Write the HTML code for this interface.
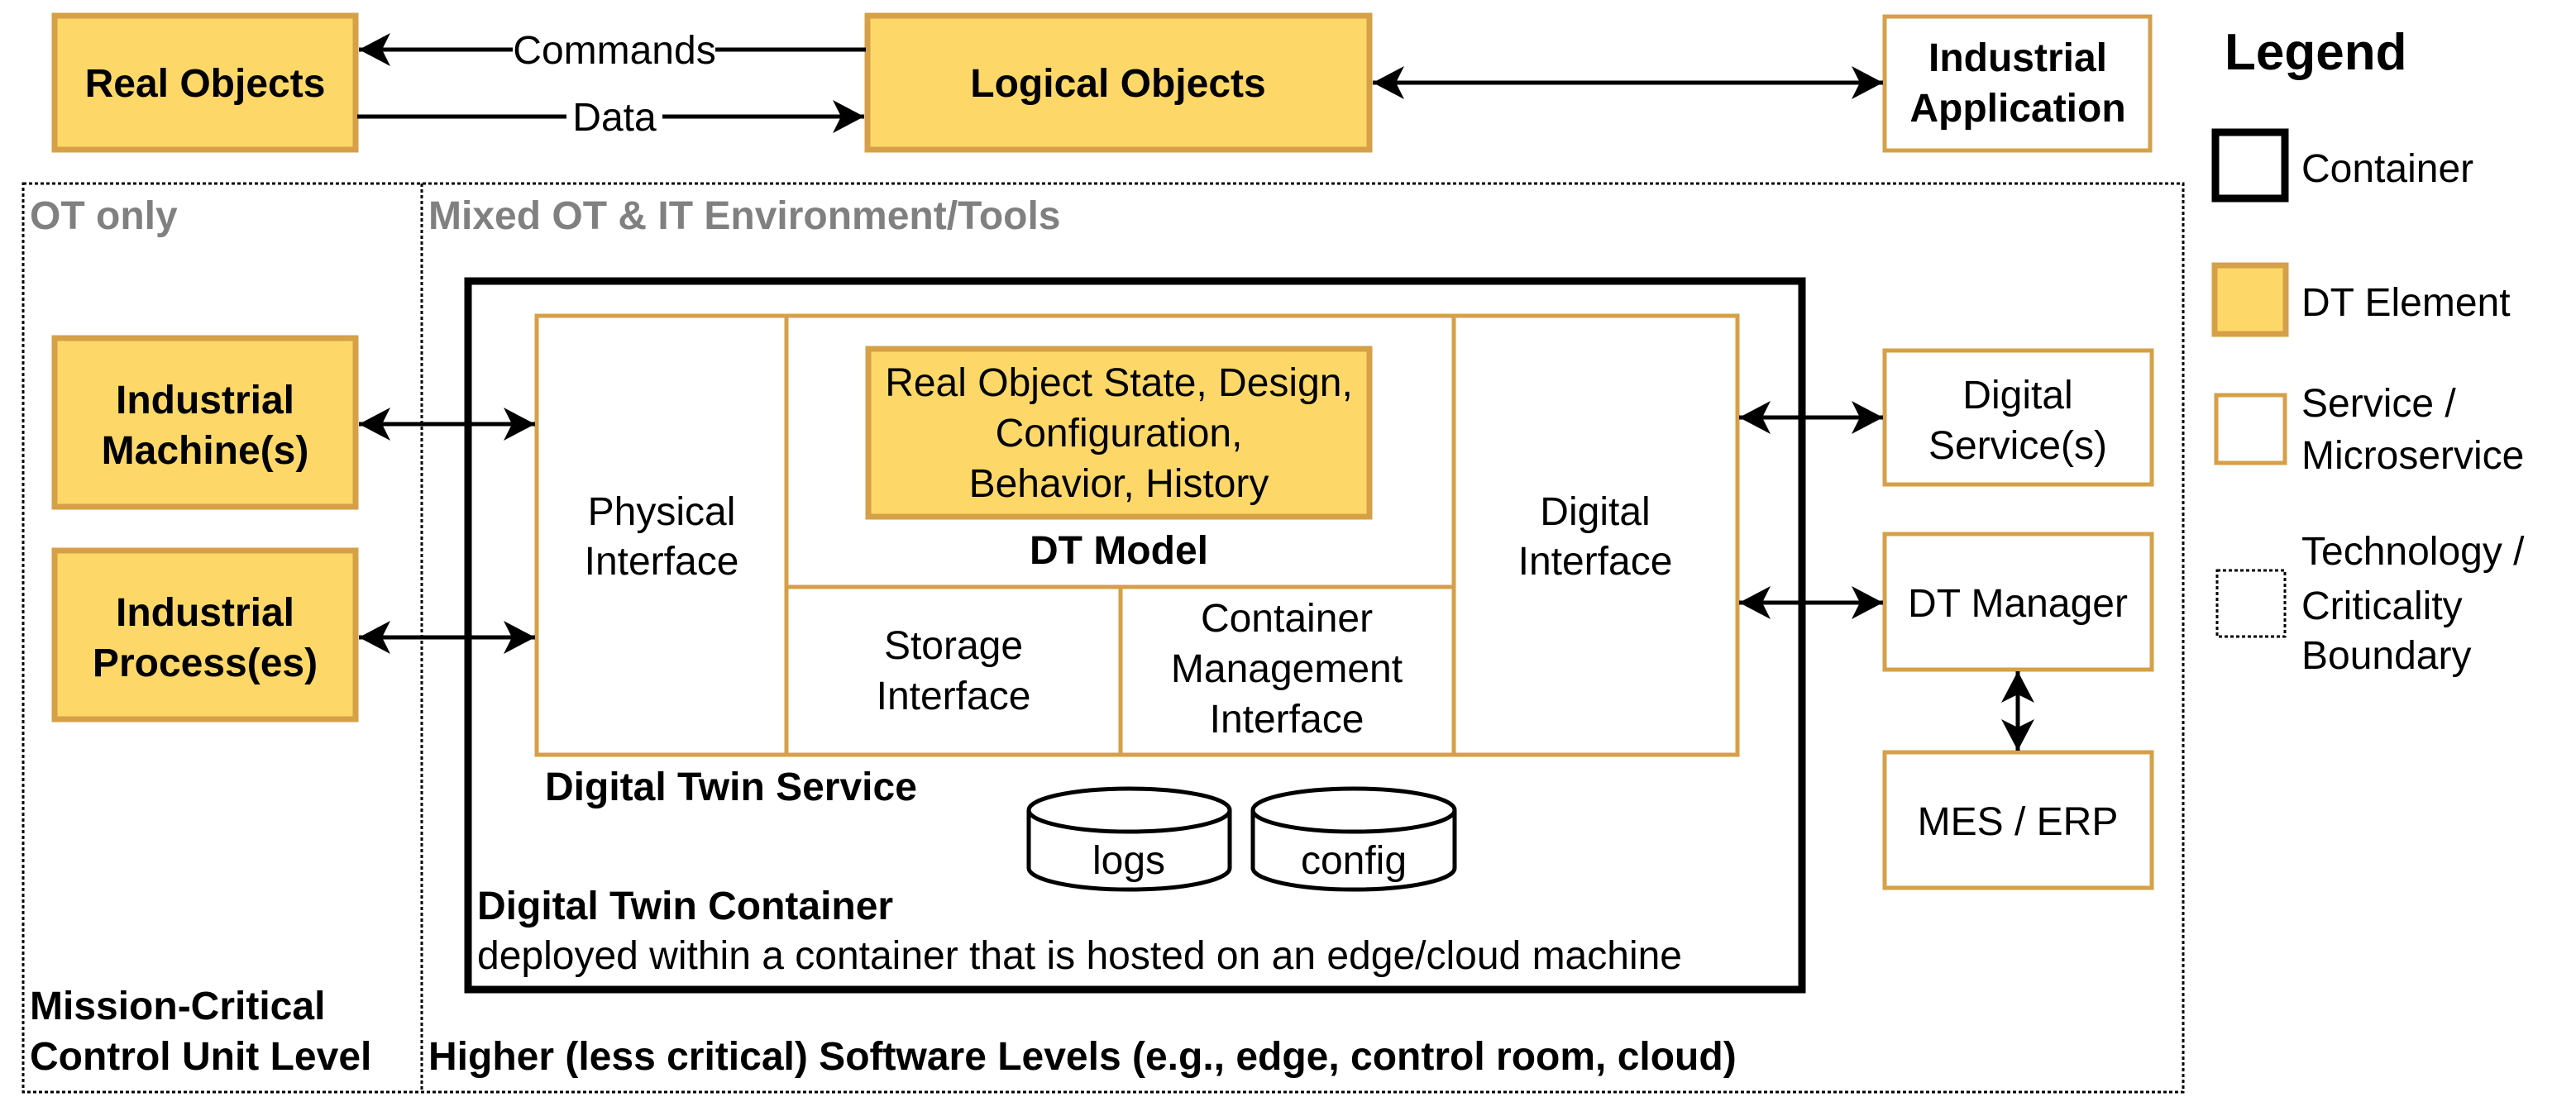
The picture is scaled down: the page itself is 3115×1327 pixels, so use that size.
<!DOCTYPE html>
<html><head><meta charset="utf-8"><style>
html,body{margin:0;padding:0;background:#fff;}
svg{display:block;}
text{font-family:"Liberation Sans",Arial,sans-serif;}
</style></head><body>
<svg width="3115" height="1327" viewBox="0 0 3115 1327" xmlns="http://www.w3.org/2000/svg">
<defs>
<marker id="ah" viewBox="0 0 20 20" refX="19" refY="10" markerWidth="20" markerHeight="20" markerUnits="userSpaceOnUse" orient="auto-start-reverse">
<path d="M0,0 L20,10 L0,20 L5,10 Z" fill="#000"/>
</marker>
<marker id="ah2" viewBox="0 0 40 40" refX="38" refY="20" markerWidth="40" markerHeight="40" markerUnits="userSpaceOnUse" orient="auto-start-reverse">
<path d="M0,0 L38,20 L0,40 L10,20 Z" fill="#000"/>
</marker>
</defs>
<g fill="#fdd868" stroke="#d5a047" stroke-width="7">
<rect x="66" y="19" width="364" height="162"/>
<rect x="1049" y="19" width="607" height="162"/>
<rect x="66" y="409" width="364" height="204"/>
<rect x="66" y="666" width="364" height="204"/>
</g>
<g fill="none" stroke="#000" stroke-width="3" stroke-dasharray="4 3">
<rect x="28" y="222" width="2612" height="1099"/>
<line x1="510" y1="222" x2="510" y2="1321"/>
</g>
<rect x="566" y="340" width="1613" height="857" fill="none" stroke="#000" stroke-width="9"/>
<g fill="none" stroke="#d5a047" stroke-width="5">
<rect x="2279" y="20" width="321" height="162" fill="#fff"/>
<rect x="649" y="382" width="1452" height="531"/>
<line x1="951" y1="382" x2="951" y2="913"/>
<line x1="1758" y1="382" x2="1758" y2="913"/>
<line x1="951" y1="710" x2="1758" y2="710"/>
<line x1="1355" y1="710" x2="1355" y2="913"/>
<rect x="2279" y="424" width="323" height="162"/>
<rect x="2279" y="646" width="323" height="164"/>
<rect x="2279" y="910" width="323" height="164"/>
</g>
<rect x="1050" y="422" width="606" height="203" fill="#fdd868" stroke="#d5a047" stroke-width="7"/>
<g stroke="#000" stroke-width="5" fill="none">
<line x1="1047" y1="60" x2="434" y2="60" marker-end="url(#ah2)"/>
<line x1="432" y1="141" x2="1045" y2="141" marker-end="url(#ah2)"/>
<line x1="1660" y1="100" x2="2277" y2="100" marker-start="url(#ah2)" marker-end="url(#ah2)"/>
<line x1="434" y1="513" x2="647" y2="513" marker-start="url(#ah2)" marker-end="url(#ah2)"/>
<line x1="434" y1="771" x2="647" y2="771" marker-start="url(#ah2)" marker-end="url(#ah2)"/>
<line x1="2103" y1="505" x2="2277" y2="505" marker-start="url(#ah2)" marker-end="url(#ah2)"/>
<line x1="2103" y1="729" x2="2277" y2="729" marker-start="url(#ah2)" marker-end="url(#ah2)"/>
<line x1="2440" y1="812" x2="2440" y2="908" marker-start="url(#ah2)" marker-end="url(#ah2)"/>
</g>
<g fill="#fff" stroke="#000" stroke-width="5">
<path d="M1244,980 L1244,1050 A121.5,26 0 0 0 1487,1050 L1487,980"/>
<ellipse cx="1365.5" cy="980" rx="121.5" ry="26"/>
<path d="M1515,980 L1515,1050 A122,26 0 0 0 1759,1050 L1759,980"/>
<ellipse cx="1637" cy="980" rx="122" ry="26"/>
</g>
<!-- legend shapes -->
<rect x="2679" y="160" width="84" height="80" fill="#fff" stroke="#000" stroke-width="9"/>
<rect x="2678" y="321" width="86" height="83" fill="#fdd868" stroke="#d5a047" stroke-width="7"/>
<rect x="2680" y="478" width="83" height="82" fill="#fff" stroke="#d5a047" stroke-width="5"/>
<rect x="2681" y="690" width="82" height="80" fill="none" stroke="#000" stroke-width="3" stroke-dasharray="4 3"/>
<g font-size="48" text-anchor="middle" fill="#000">
<rect x="620" y="38" width="245" height="44" fill="#fff"/>
<text x="743" y="77">Commands</text>
<rect x="685" y="118" width="116" height="44" fill="#fff"/>
<text x="743" y="158">Data</text>
<text x="248" y="117" font-weight="bold">Real Objects</text>
<text x="1352" y="117" font-weight="bold">Logical Objects</text>
<text x="2440" y="86" font-weight="bold">Industrial</text>
<text x="2440" y="147" font-weight="bold">Application</text>
<text x="248" y="500" font-weight="bold">Industrial</text>
<text x="248" y="561" font-weight="bold">Machine(s)</text>
<text x="248" y="757" font-weight="bold">Industrial</text>
<text x="248" y="818" font-weight="bold">Process(es)</text>
<text x="800" y="635">Physical</text>
<text x="800" y="695">Interface</text>
<text x="1353" y="479">Real Object State, Design,</text>
<text x="1353" y="540">Configuration,</text>
<text x="1353" y="601">Behavior, History</text>
<text x="1353" y="682" font-weight="bold">DT Model</text>
<text x="1153" y="797">Storage</text>
<text x="1153" y="858">Interface</text>
<text x="1556" y="764">Container</text>
<text x="1556" y="825">Management</text>
<text x="1556" y="886">Interface</text>
<text x="1929" y="635">Digital</text>
<text x="1929" y="695">Interface</text>
<text x="1365" y="1057">logs</text>
<text x="1637" y="1057">config</text>
<text x="2440" y="494">Digital</text>
<text x="2440" y="555">Service(s)</text>
<text x="2440" y="746">DT Manager</text>
<text x="2440" y="1010">MES / ERP</text>
</g>
<g font-size="48" fill="#000">
<text x="36" y="277" font-weight="bold" fill="#808080">OT only</text>
<text x="518" y="277" font-weight="bold" fill="#808080">Mixed OT &amp; IT Environment/Tools</text>
<text x="659" y="968" font-weight="bold">Digital Twin Service</text>
<text x="577" y="1112" font-weight="bold">Digital Twin Container</text>
<text x="577" y="1172">deployed within a container that is hosted on an edge/cloud machine</text>
<text x="36" y="1233" font-weight="bold">Mission-Critical</text>
<text x="36" y="1294" font-weight="bold">Control Unit Level</text>
<text x="518" y="1294" font-weight="bold">Higher (less critical) Software Levels (e.g., edge, control room, cloud)</text>
<text x="2690" y="84" font-size="62" font-weight="bold">Legend</text>
<text x="2783" y="220">Container</text>
<text x="2783" y="382">DT Element</text>
<text x="2783" y="504">Service /</text>
<text x="2783" y="567">Microservice</text>
<text x="2783" y="683">Technology /</text>
<text x="2783" y="749">Criticality</text>
<text x="2783" y="809">Boundary</text>
</g>
</svg>
</body></html>
